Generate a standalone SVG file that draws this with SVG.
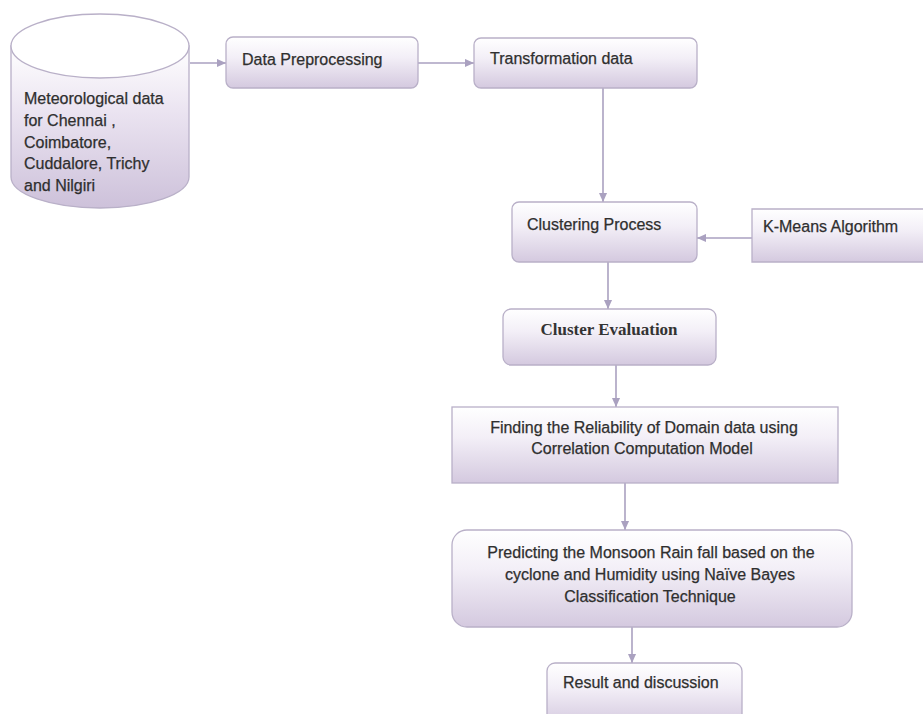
<svg xmlns="http://www.w3.org/2000/svg" width="923" height="714" viewBox="0 0 923 714">
<style>
.box{stroke:#b9b0c8;stroke-width:1.3;fill:url(#g)}
.t{font-family:"Liberation Sans",Arial,sans-serif;font-size:16px;fill:#2f2f2f;stroke:#2f2f2f;stroke-width:0.25}
.c{text-anchor:middle}
.s{font-family:"Liberation Serif","Times New Roman",serif;font-size:17px;font-weight:bold;fill:#333333;text-anchor:middle}
.conn line{stroke:#aaa1c0;stroke-width:1.6;marker-end:url(#ah)}
</style>
<defs>
<linearGradient id="g" x1="0" y1="0" x2="0" y2="1">
<stop offset="0" stop-color="#ffffff"/>
<stop offset="0.4" stop-color="#f3eff7"/>
<stop offset="1" stop-color="#d4c9df"/>
</linearGradient>
<linearGradient id="gc" x1="0" y1="0" x2="0" y2="1">
<stop offset="0" stop-color="#ffffff"/>
<stop offset="0.4" stop-color="#ebe4f1"/>
<stop offset="1" stop-color="#cdc1da"/>
</linearGradient>
<marker id="ah" markerUnits="userSpaceOnUse" markerWidth="9" markerHeight="9" viewBox="0 0 10 10" refX="10" refY="5" orient="auto">
<path d="M0,0.5 L10,5 L0,9.5 Z" fill="#aaa1c0"/>
</marker>
</defs>
<rect width="923" height="714" fill="#ffffff"/>

<g class="conn" id="connectors">
<line x1="190" y1="63" x2="226" y2="63"/>
<line x1="418" y1="63" x2="474" y2="63"/>
<line x1="603" y1="88" x2="603" y2="202"/>
<line x1="752" y1="238" x2="697" y2="238"/>
<line x1="608" y1="262" x2="608" y2="309"/>
<line x1="616" y1="365" x2="616" y2="407"/>
<line x1="625" y1="483" x2="625" y2="530"/>
<line x1="632" y1="627" x2="632" y2="663"/>
</g>

<g id="meteorological-data">
<path d="M11,46 L11,177 A89,31 0 0 0 189,177 L189,46 Z" fill="url(#gc)" stroke="#b9b0c8" stroke-width="1.3"/>
<ellipse cx="100" cy="46" rx="89" ry="32" fill="#ffffff" stroke="#b9b0c8" stroke-width="1.3"/>
<text class="t" x="24" y="104">Meteorological data</text>
<text class="t" x="24" y="126">for Chennai ,</text>
<text class="t" x="24" y="148">Coimbatore,</text>
<text class="t" x="24" y="169">Cuddalore, Trichy</text>
<text class="t" x="24" y="191">and Nilgiri</text>
</g>

<g id="data-preprocessing">
<rect class="box" x="226" y="37" width="192" height="51" rx="7"/>
<text class="t" x="242" y="65">Data Preprocessing</text>
</g>

<g id="transformation-data">
<rect class="box" x="474" y="38" width="223" height="50" rx="7"/>
<text class="t" x="490" y="64">Transformation data</text>
</g>

<g id="clustering-process">
<rect class="box" x="512" y="202" width="185" height="60" rx="7"/>
<text class="t" x="527" y="230">Clustering Process</text>
</g>

<g id="k-means">
<path class="box" d="M930,209 L752,209 L752,262 L930,262"/>
<text class="t" x="763" y="232">K-Means Algorithm</text>
</g>

<g id="cluster-evaluation">
<rect class="box" x="503" y="309" width="213" height="56" rx="8"/>
<text class="s" x="609" y="335">Cluster Evaluation</text>
</g>

<g id="finding-reliability">
<rect class="box" x="452" y="407" width="386" height="76"/>
<text class="t c" x="644" y="433">Finding the Reliability of Domain data using</text>
<text class="t c" x="642" y="454">Correlation Computation Model</text>
</g>

<g id="predicting">
<rect class="box" x="452" y="530" width="400" height="97" rx="15"/>
<text class="t c" x="651" y="558">Predicting the Monsoon Rain fall based on the</text>
<text class="t c" x="650" y="580">cyclone and Humidity using Naïve Bayes</text>
<text class="t c" x="650" y="602">Classification Technique</text>
</g>

<g id="result">
<rect class="box" x="547" y="663" width="195" height="62" rx="8"/>
<text class="t" x="563" y="688">Result and discussion</text>
</g>
</svg>
